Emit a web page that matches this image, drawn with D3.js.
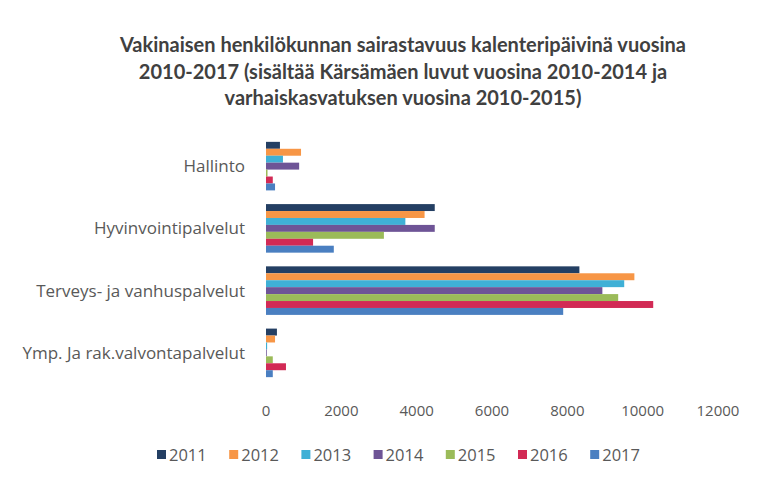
<!DOCTYPE html>
<html>
<head>
<meta charset="utf-8">
<script src="https://cdn.jsdelivr.net/npm/d3@7"></script>
<style>
  body { margin: 0; background: #fff; }
  svg { display: block; }
</style>
</head>
<body>
<svg></svg>
<script>
// Sick leave days by sector, grouped horizontal bars
const width = 780;
const height = 480;

const titleLines = [
    "Vakinaisen henkilökunnan sairastavuus kalenteripäivinä vuosina",
    "2010-2017 (sisältää Kärsämäen luvut vuosina 2010-2014 ja",
    "varhaiskasvatuksen vuosina 2010-2015)"
];

const categories = [
    "Hallinto",
    "Hyvinvointipalvelut",
    "Terveys- ja vanhuspalvelut",
    "Ymp. Ja rak.valvontapalvelut"
];
const years = ["2011", "2012", "2013", "2014", "2015", "2016", "2017"];
const colors = ["#243f63", "#f79646", "#3fb0d6", "#6e5496", "#9bbb59", "#d22a55", "#4a7fc1"];

// values per year, in category order
const v2011 = [370, 4480, 8320, 290];
const v2012 = [930, 4210, 9780, 240];
const v2013 = [450, 3700, 9510, 30];
const v2014 = [880, 4480, 8930, 20];
const v2015 = [40, 3130, 9350, 180];
const v2016 = [180, 1250, 10280, 530];
const v2017 = [240, 1800, 7890, 180];
const seriesValues = [v2011, v2012, v2013, v2014, v2015, v2016, v2017];

const xTicks = [0, 2000, 4000, 6000, 8000, 10000, 12000];

const svg = d3.select("svg")
    .attr("width", width)
    .attr("height", height)
    .attr("viewBox", `0 0 ${width} ${height}`);

svg.append("rect").attr("width", width).attr("height", height).attr("fill", "#fff");

// Title
svg.append("g")
    .selectAll("text")
    .data(titleLines)
    .enter().append("text")
    .attr("x", 403)
    .attr("y", (d, i) => 52 + i * 26.5)
    .attr("text-anchor", "middle")
    .style("font", "bold 20px Lato, sans-serif")
    .style("fill", "#404040")
    .text(d => d);

const x = d3.scaleLinear()
    .domain([0, 12000])
    .range([266, 718]);

const y = d3.scaleBand()
    .domain(categories)
    .range([135, 384])
    .paddingInner(0.22)
    .paddingOuter(0.11);

const yInner = d3.scaleBand()
    .domain(years)
    .range([0, y.bandwidth()]);

// Bars
const groups = svg.append("g")
    .selectAll("g")
    .data(categories)
    .enter().append("g")
    .attr("transform", d => `translate(0,${y(d)})`);

groups.selectAll("rect")
    .data((c, ci) => years.map((yr, si) => ({ year: yr, si: si, value: seriesValues[si][ci] })))
    .enter().append("rect")
    .attr("x", x(0))
    .attr("y", d => yInner(d.year))
    .attr("width", d => x(d.value) - x(0))
    .attr("height", yInner.bandwidth())
    .attr("fill", d => colors[d.si]);

// Category labels
svg.append("g")
    .selectAll("text")
    .data(categories)
    .enter().append("text")
    .attr("x", 245)
    .attr("y", d => y(d) + y.bandwidth() / 2 + 6)
    .attr("text-anchor", "end")
    .style("font", "17px 'Open Sans', sans-serif")
    .style("fill", "#595959")
    .text(d => d);

// X tick labels
svg.append("g")
    .selectAll("text")
    .data(xTicks)
    .enter().append("text")
    .attr("x", d => x(d))
    .attr("y", 416)
    .attr("text-anchor", "middle")
    .style("font", "15px 'Open Sans', sans-serif")
    .style("fill", "#595959")
    .text(d => d);

// Legend
const legend = svg.append("g")
    .attr("transform", "translate(157,455)");

const legendItems = legend.selectAll("g")
    .data(years)
    .enter().append("g")
    .attr("transform", (d, i) => `translate(${i * 72.2},0)`);

legendItems.append("rect")
    .attr("x", 0)
    .attr("y", -5)
    .attr("width", 9)
    .attr("height", 9)
    .attr("fill", (d, i) => colors[i]);

legendItems.append("text")
    .attr("x", 12)
    .attr("y", 6)
    .style("font", "16.5px 'Open Sans', sans-serif")
    .style("fill", "#595959")
    .text(d => d);
</script>
</body>
</html>
